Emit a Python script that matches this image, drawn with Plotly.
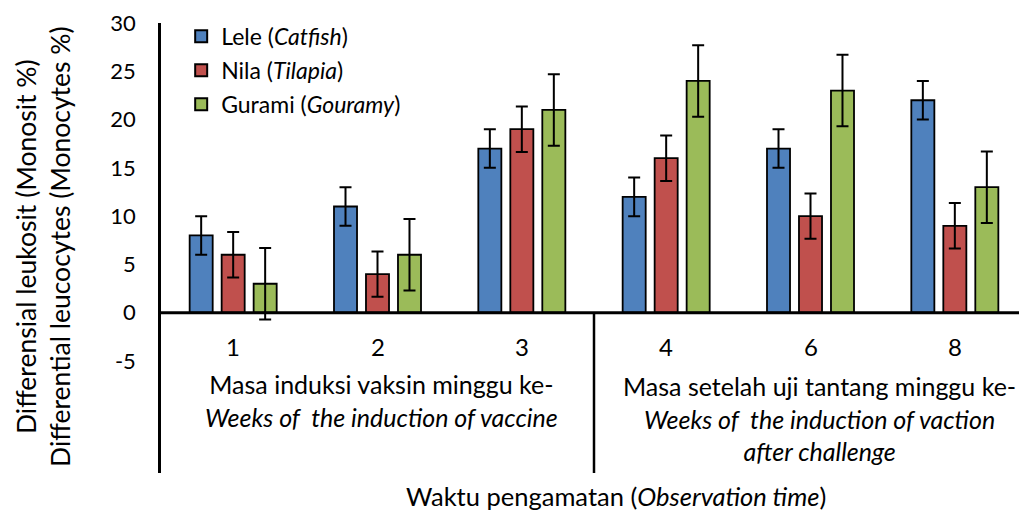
import plotly.graph_objects as go

categories = ["1", "2", "3", "4", "6", "8"]
lele = [8, 11, 17, 12, 17, 22]
nila = [6, 4, 19, 16, 10, 9]
gurami = [3, 6, 21, 24, 23, 13]
lele_err = [2, 2, 2, 2, 2, 2]
nila_err = [2.35, 2.35, 2.35, 2.35, 2.35, 2.35]
gurami_err = [3.7, 3.7, 3.7, 3.7, 3.7, 3.7]
series_names = ["Lele (<i>Catfish</i>)", "Nila (<i>Tilapia</i>)", "Gurami (<i>Gouramy</i>)"]
colors = ["#4F81BD", "#C0504D", "#9BBB59"]
y_ticks = [-5, 0, 5, 10, 15, 20, 25, 30]

FONT = "Lato, Roboto, sans-serif"

fig = go.Figure()
for i, (name, vals, err, col) in enumerate(zip(series_names, [lele, nila, gurami],
                                               [lele_err, nila_err, gurami_err], colors)):
    fig.add_trace(go.Bar(
        x=categories, y=vals, name=name, legendgroup=f"g{i}",
        marker=dict(color=col, line=dict(color="black", width=1.8)),
        error_y=dict(type="data", array=err, visible=True, color="black", thickness=2, width=6),
    ))

# page body has an 8px default margin, so the figure is sized to fit the window
fig.update_layout(
    width=1019, height=508,
    margin=dict(l=153, r=0, t=15, b=43, autoexpand=False),
    plot_bgcolor="white", paper_bgcolor="white",
    barmode="group", bargap=0.335, bargroupgap=0.28,
    font=dict(family=FONT, color="black", size=20),
    showlegend=True,
    legend=dict(x=0.0233, y=1.018, xanchor="left", yanchor="top",
                font=dict(size=23), bgcolor="rgba(0,0,0,0)", tracegroupgap=1, itemsizing="constant"),
    xaxis=dict(type="category", showticklabels=False, showline=False, showgrid=False, zeroline=False,
               range=[-0.5, 5.5], automargin=False),
    yaxis=dict(range=[-16.6, 30], tickvals=y_ticks, ticktext=[str(v) for v in y_ticks],
               showgrid=False, zeroline=False, showline=True, linecolor="black", linewidth=2.5,
               ticks="", tickfont=dict(size=22), ticklabelstandoff=18, automargin=False),
)

# zero line (category axis)
fig.add_shape(type="line", xref="paper", yref="y", x0=0, x1=1, y0=0, y1=0,
              line=dict(color="black", width=3))
# group divider
fig.add_shape(type="line", xref="x", yref="y", x0=2.5, x1=2.5, y0=0, y1=-16.6,
              line=dict(color="black", width=2.5))

for i, c in enumerate(categories):
    fig.add_annotation(x=i, y=-3.53, xref="x", yref="y", text=c, showarrow=False,
                       font=dict(size=24))

fig.add_annotation(x=1.03, y=-9.1, xref="x", yref="y",
                   text="Masa induksi vaksin minggu ke-<br><i>Weeks of  the induction of vaccine</i>",
                   showarrow=False, font=dict(size=25))
fig.add_annotation(x=4.06, y=-11.0, xref="x", yref="y",
                   text="Masa setelah uji tantang minggu ke-<br><i>Weeks of  the induction of vaction</i><br><i>after challenge</i>",
                   showarrow=False, font=dict(size=25))
fig.add_annotation(x=0.525, y=-0.051, xref="paper", yref="paper", xanchor="center", yanchor="middle",
                   text="Waktu pengamatan (<i>Observation time</i>)", showarrow=False,
                   font=dict(size=25.5))
fig.add_annotation(x=-0.1365, y=0.504, xref="paper", yref="paper", xanchor="center", yanchor="middle",
                   textangle=-90,
                   text="Differensial leukosit (Monosit %)<br>Differential leucocytes (Monocytes %)",
                   showarrow=False, font=dict(size=26.5))

fig.write_html("out.html")
